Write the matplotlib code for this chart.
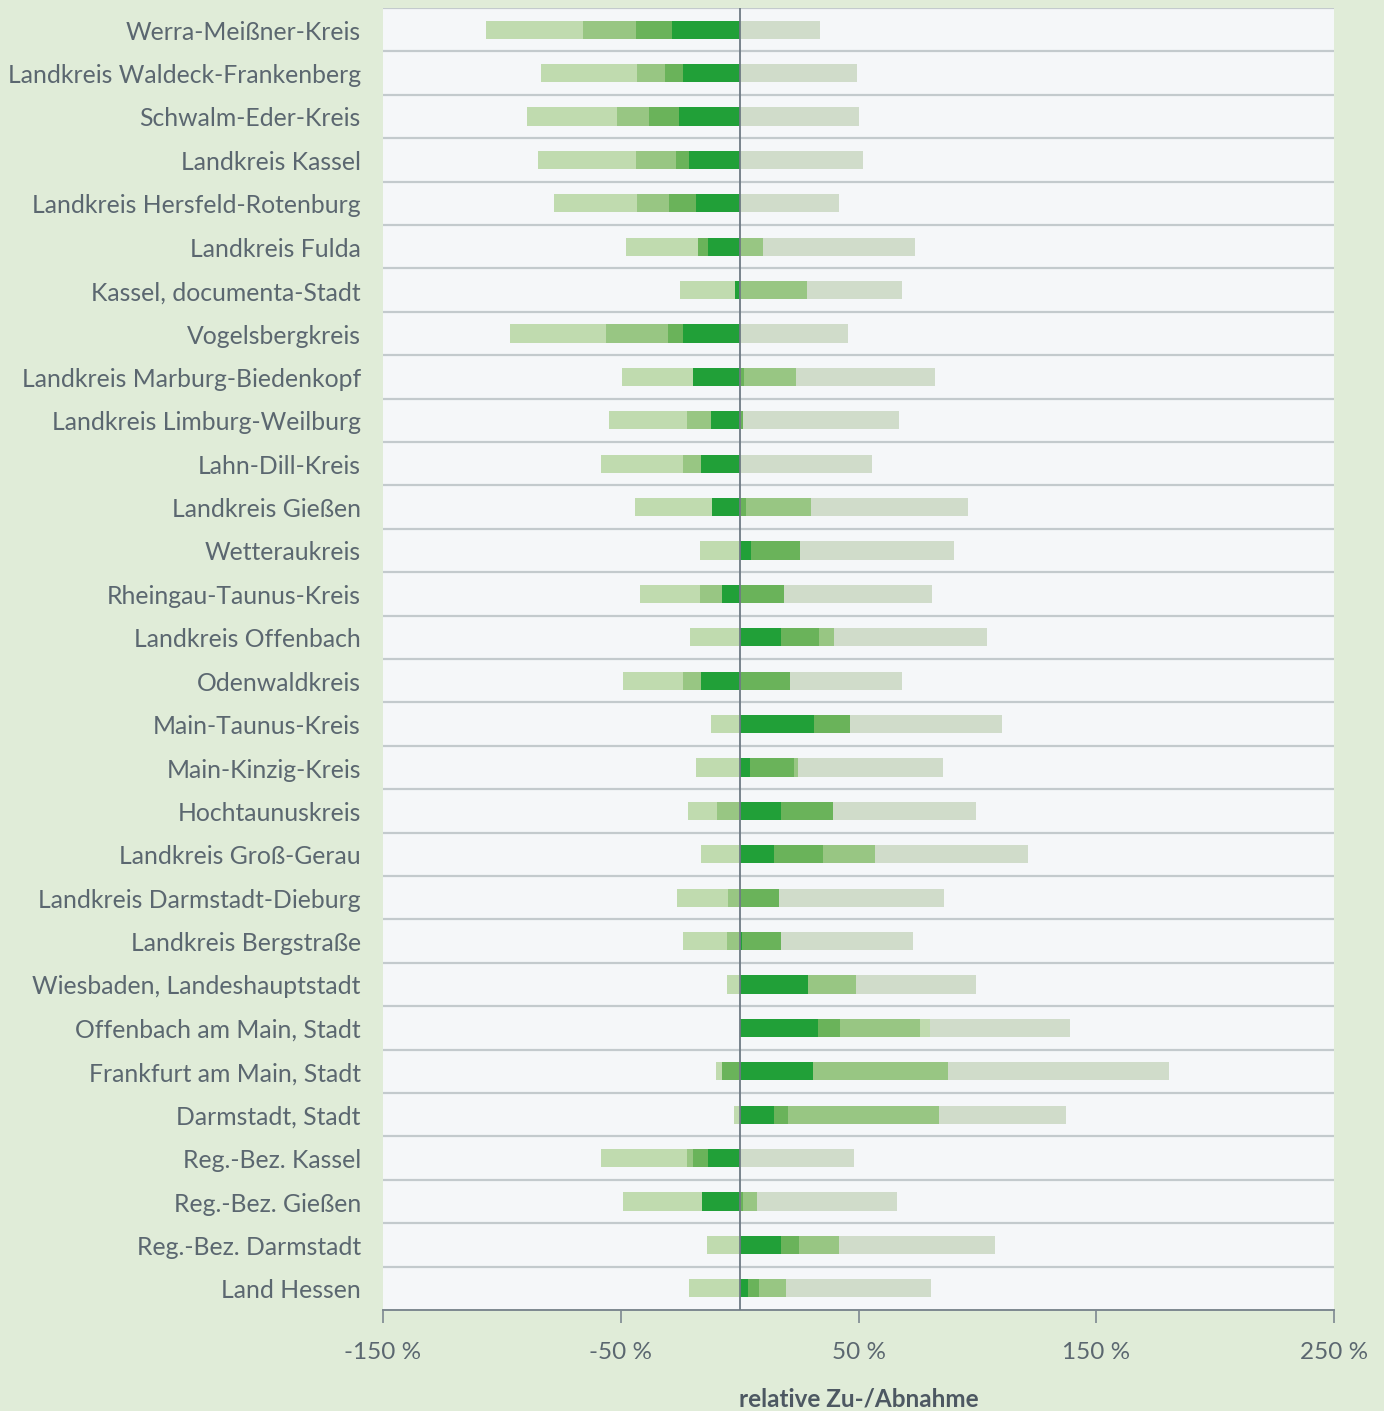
import matplotlib
matplotlib.use('Agg')
import matplotlib.pyplot as plt
import matplotlib.transforms as mtransforms
import numpy as np

# Kreise von oben nach unten
regions = [
    'Werra-Meißner-Kreis', 'Landkreis Waldeck-Frankenberg', 'Schwalm-Eder-Kreis',
    'Landkreis Kassel', 'Landkreis Hersfeld-Rotenburg', 'Landkreis Fulda',
    'Kassel, documenta-Stadt', 'Vogelsbergkreis', 'Landkreis Marburg-Biedenkopf',
    'Landkreis Limburg-Weilburg', 'Lahn-Dill-Kreis', 'Landkreis Gießen',
    'Wetteraukreis', 'Rheingau-Taunus-Kreis', 'Landkreis Offenbach',
    'Odenwaldkreis', 'Main-Taunus-Kreis', 'Main-Kinzig-Kreis',
    'Hochtaunuskreis', 'Landkreis Groß-Gerau', 'Landkreis Darmstadt-Dieburg',
    'Landkreis Bergstraße', 'Wiesbaden, Landeshauptstadt', 'Offenbach am Main, Stadt',
    'Frankfurt am Main, Stadt', 'Darmstadt, Stadt', 'Reg.-Bez. Kassel',
    'Reg.-Bez. Gießen', 'Reg.-Bez. Darmstadt', 'Land Hessen',
]

# relative Zu-/Abnahme in %, eine Liste je Farbe (Stapelreihenfolge)
dark = [-28.4, -23.9, -25.7, -21.4, -18.3, -13.1, -1.9, -23.9, -19.5, -12.0,
        -16.4, -11.6, 4.8, -7.5, 17.2, -16.4, 31.1, 4.2, 17.6, 14.3,
        0.0, 0.8, 28.9, 32.8, 30.9, 14.3, -13.1, -15.8, 17.2, 3.7]
medium = [-15.3, -7.5, -12.4, -5.2, -11.4, -4.2, 0.0, -6.4, 1.9, 1.5,
          0.0, 2.5, 20.7, 18.7, 16.0, 21.2, 15.3, 18.5, 21.6, 20.8,
          16.4, 16.8, 0.0, 9.5, -7.5, 6.2, -6.4, 1.5, 7.7, 4.6]
light_medium = [-22.0, -11.8, -13.3, -17.0, -13.5, 9.7, 28.4, -25.9, 22.0, -10.0,
                -7.3, 27.4, 0.0, -9.1, 6.4, -7.5, 0.0, 1.9, -9.5, 22.0,
                -4.8, -5.4, 20.1, 33.6, 56.9, 63.5, -2.7, 5.8, 17.0, 11.2]
light = [-40.9, -40.2, -38.2, -41.1, -34.9, -30.3, -23.2, -40.3, -30.1, -32.8,
         -34.7, -32.4, -16.6, -25.1, -20.7, -25.1, -12.0, -18.3, -12.2, -16.2,
         -21.4, -18.3, -5.5, 4.2, -2.5, -2.5, -35.9, -33.4, -13.7, -21.4]
grey = [33.8, 49.2, 50.2, 51.7, 41.9, 63.9, 39.8, 45.6, 58.1, 65.7,
        55.8, 66.2, 64.7, 62.4, 64.3, 46.9, 64.1, 60.8, 60.2, 64.3,
        69.5, 55.4, 50.4, 58.9, 92.7, 53.1, 48.3, 58.7, 65.6, 60.8]

xticks = [-150, -50, 50, 150, 250]

series = [
    (dark, '#21a038'),
    (medium, '#6ab35a'),
    (light_medium, '#98c683'),
    (light, '#c0dbaf'),
    (grey, '#d0dcca'),
]

bg = '#e0ecd8'
text_col = '#5b6770'
font = ['Lato', 'DejaVu Sans']

fig = plt.figure(figsize=(13.84, 14.11), dpi=100, facecolor=bg)
ax = fig.add_axes([383 / 1384, 1 - 1310 / 1411, (1334 - 383) / 1384, (1310 - 8) / 1411])
ax.set_facecolor('#f5f7f9')

y = np.arange(len(regions))
pos = np.zeros(len(regions))
neg = np.zeros(len(regions))
for values, color in series:
    v = np.array(values)
    left = np.where(v >= 0, pos, neg)
    ax.barh(y, v, left=left, height=0.415, color=color, linewidth=0, zorder=2)
    pos = pos + np.clip(v, 0, None)
    neg = neg + np.clip(v, None, 0)

# Trennlinien zwischen den Zeilen
for k in range(len(regions)):
    ax.axhline(k - 0.5, color='#c3cacd', lw=1.6, zorder=1)
ax.axvline(0, color='#6e7a84', lw=1.3, zorder=3)

ax.set_xlim(-150, 250)
ax.set_ylim(len(regions) - 0.5, -0.5)

ax.set_yticks(y)
ax.set_yticklabels(regions, family=font, fontsize=17.8, color=text_col)
ax.tick_params(axis='y', length=0, pad=16)
shift = mtransforms.ScaledTranslation(0, -0.025, fig.dpi_scale_trans)
for lab in ax.get_yticklabels():
    lab.set_verticalalignment('center')
    lab.set_transform(lab.get_transform() + shift)

ax.set_xticks(xticks)
ax.set_xticklabels([f'{t} %' for t in xticks], family=font, fontsize=17.5, color=text_col)
ax.tick_params(axis='x', length=9, width=1.2, color='#7d8890', pad=14)
ax.set_xlabel('relative Zu-/Abnahme', family=font, fontsize=17.5, fontweight='bold',
              color='#4d5862', labelpad=18)

for side in ('top', 'right', 'left'):
    ax.spines[side].set_visible(False)
ax.spines['bottom'].set_color('#7d8890')
ax.spines['bottom'].set_linewidth(1.4)

fig.savefig('out.png', dpi=100, facecolor=bg)
plt.close()
